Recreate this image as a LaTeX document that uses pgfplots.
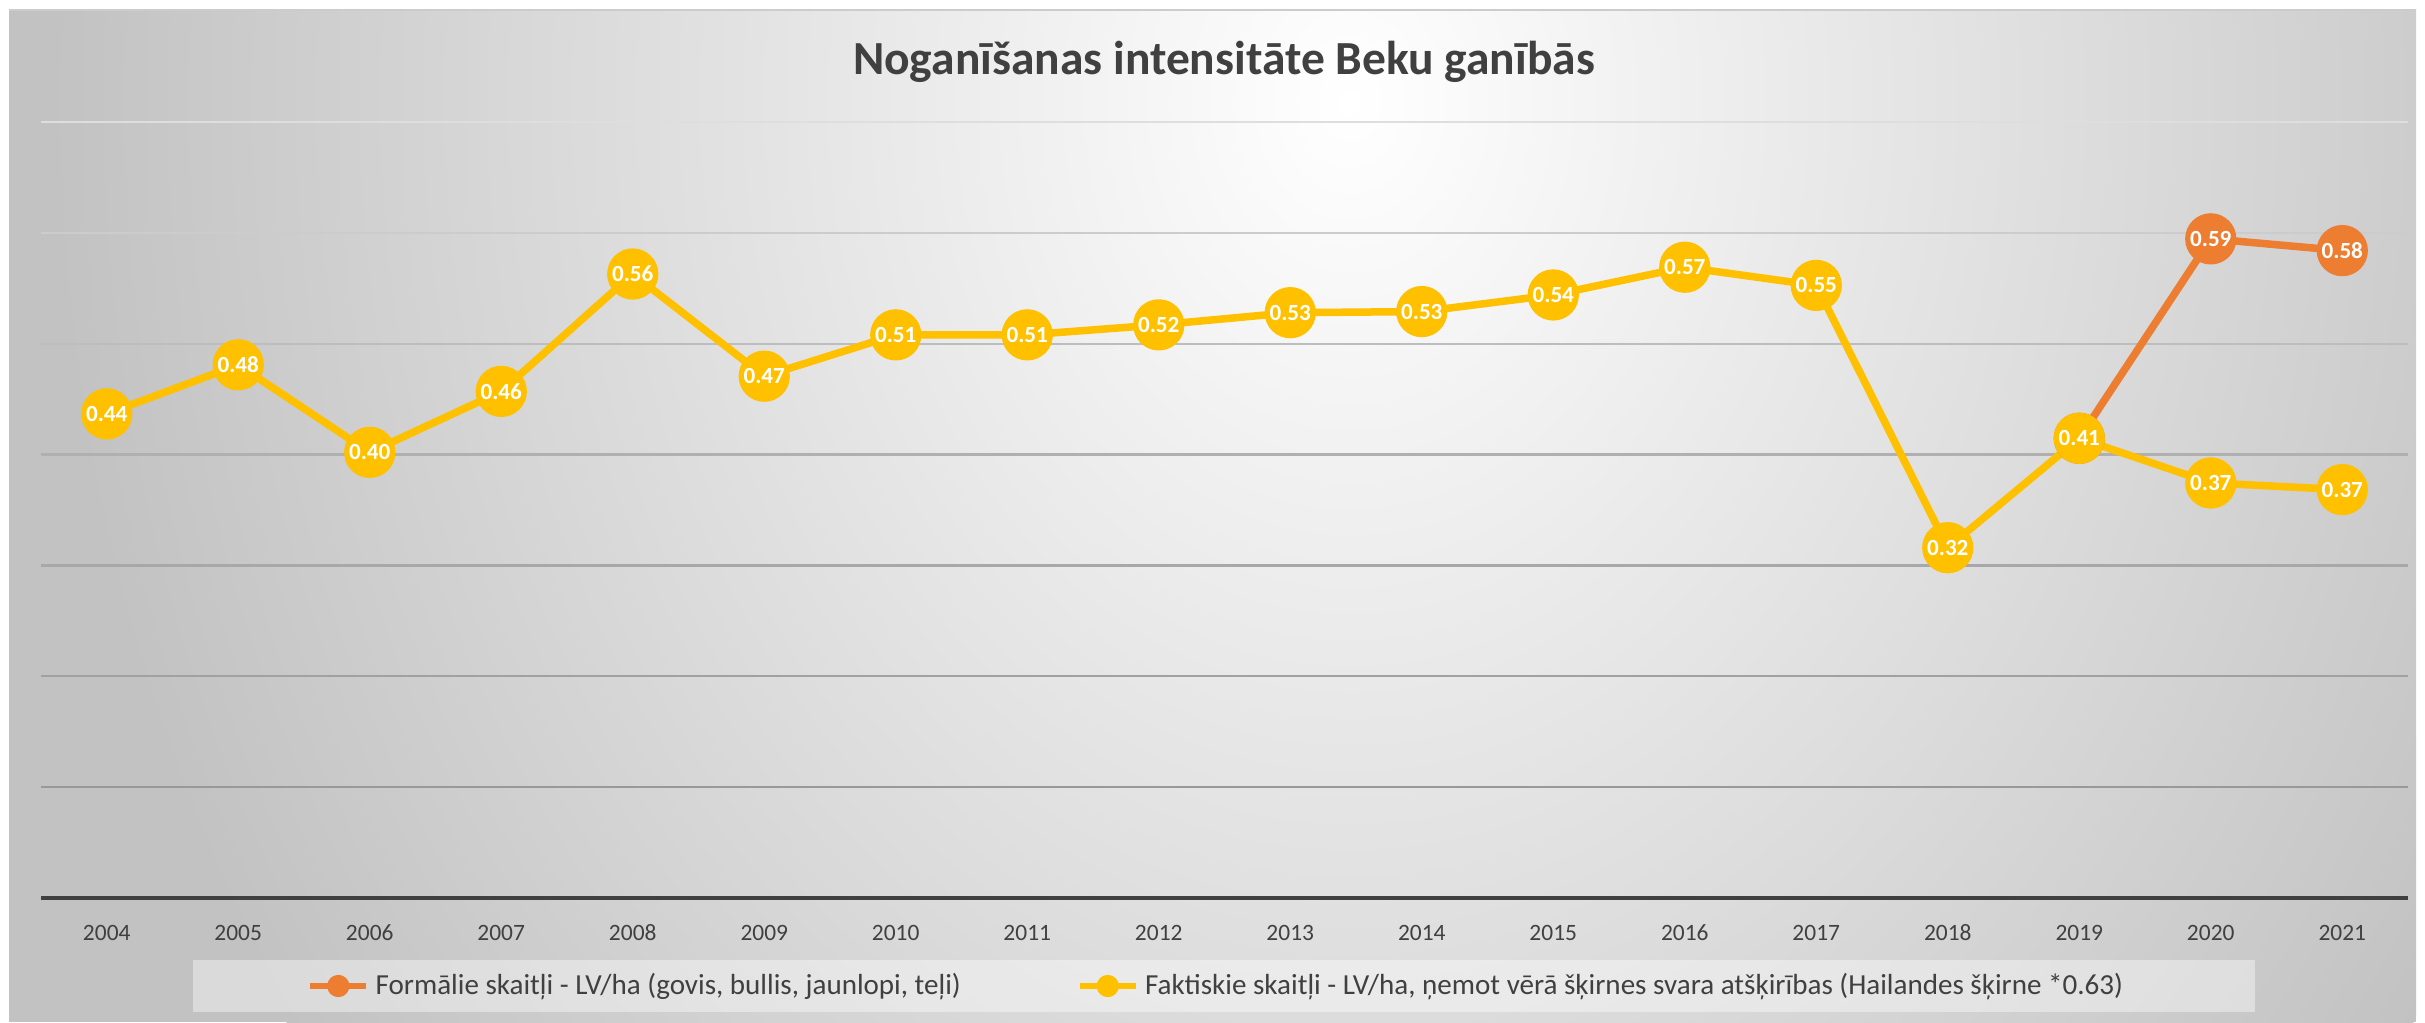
\documentclass[border=0pt]{standalone}
\usepackage{fontspec}
\setmainfont{Carlito}
\usepackage{pgfplots}
\pgfplotsset{compat=1.18}
\definecolor{cOrange}{HTML}{ED7D31}
\definecolor{cYellow}{HTML}{FFC000}
\definecolor{cText}{HTML}{404040}
\definecolor{cEdge}{HTML}{C2C2C2}
\begin{document}
\begin{tikzpicture}
\fill[white] (0,0) rectangle (776pt,327.04pt);
\fill[cEdge] (2.88pt,0) rectangle (773.12pt,323.84pt);
\begin{scope}
\clip (2.88pt,0) rectangle (773.12pt,323.84pt);
\shade[inner color=white, outer color=cEdge] (432pt,294.4pt) ellipse (416pt and 512pt);
\end{scope}
\draw[line width=0.6pt, color=black!20] (2.88pt,323.84pt) -- (773.12pt,323.84pt);
\node[anchor=base, font=\bfseries\fontsize{15.2}{17}\selectfont, text=cText, inner sep=0pt] at (391.68pt,303.04pt) {Noganīšanas intensitāte Beku ganībās};
\fill[white, opacity=0.4] (61.76pt,3.2pt) rectangle (721.6pt,19.84pt);
\begin{axis}[
  at={(13.12pt,39.68pt)}, anchor=south west,
  scale only axis, width=757.44pt, height=248.32pt,
  xmin=2003.5, xmax=2021.5, ymin=0, ymax=0.7,
  clip=false,
  axis line style={draw=none},
  ytick=\empty,
  xtick={2004,2005,...,2021},
  major tick length=0pt,
  /pgf/number format/1000 sep={},
  /pgf/number format/assume math mode=true,
  xticklabel style={font=\fontsize{7.5}{9}\selectfont, text=cText, anchor=center, yshift=-11.2pt},
  legend style={at={(0.5,0)}, anchor=center, yshift=-28.16pt, xshift=-2pt, draw=none, fill=none,
    font=\fontsize{9.3}{11}\selectfont, text=cText, inner sep=0pt,
    /tikz/every even column/.append style={column sep=35pt}},
  legend columns=2,
  legend cell align=left,
  legend image code/.code={\draw[mark repeat=2,mark phase=2,#1,mark size=2.6pt,line width=1.9pt] plot coordinates {(0pt,0pt) (9pt,0pt) (18pt,0pt)};},
  point meta=y,
  nodes near coords={\pgfmathprintnumber[fixed,fixed zerofill,precision=2]{\pgfplotspointmeta}},
  every node near coord/.append style={anchor=center, text=white, font=\bfseries\fontsize{7.4}{8}\selectfont, inner sep=0pt},
]
\draw[black!13, line width=0.7pt] (axis cs:2003.5,0.7) -- (axis cs:2021.5,0.7);
\draw[black!20, line width=0.7pt] (axis cs:2003.5,0.6) -- (axis cs:2021.5,0.6);
\draw[black!26, line width=0.7pt] (axis cs:2003.5,0.5) -- (axis cs:2021.5,0.5);
\draw[black!31, line width=0.7pt] (axis cs:2003.5,0.4) -- (axis cs:2021.5,0.4);
\draw[black!34, line width=0.7pt] (axis cs:2003.5,0.3) -- (axis cs:2021.5,0.3);
\draw[black!37, line width=0.7pt] (axis cs:2003.5,0.2) -- (axis cs:2021.5,0.2);
\draw[black!40, line width=0.7pt] (axis cs:2003.5,0.1) -- (axis cs:2021.5,0.1);
\draw[cText, line width=1.3pt] (axis cs:2003.5,0) -- (axis cs:2021.5,0);
\addplot[cOrange, line width=2.4pt, line join=round, mark=*, mark size=7pt, mark options={solid}] coordinates {
(2019,0.4147) (2020,0.5946) (2021,0.584)};
\addlegendentry{Formālie skaitļi - LV/ha (govis, bullis, jaunlopi, teļi)}
\addplot[cYellow, line width=2.4pt, line join=round, mark=*, mark size=7pt, mark options={solid}] coordinates {
(2004,0.4367) (2005,0.481) (2006,0.402) (2007,0.457) (2008,0.5629) (2009,0.4707)
(2010,0.508) (2011,0.508) (2012,0.517) (2013,0.528) (2014,0.529) (2015,0.544)
(2016,0.569) (2017,0.5526) (2018,0.316) (2019,0.4147) (2020,0.3744) (2021,0.3684)};
\addlegendentry{Faktiskie skaitļi - LV/ha, ņemot vērā šķirnes svara atšķirības (Hailandes šķirne *0.63)}
\end{axis}
\end{tikzpicture}
\end{document}
